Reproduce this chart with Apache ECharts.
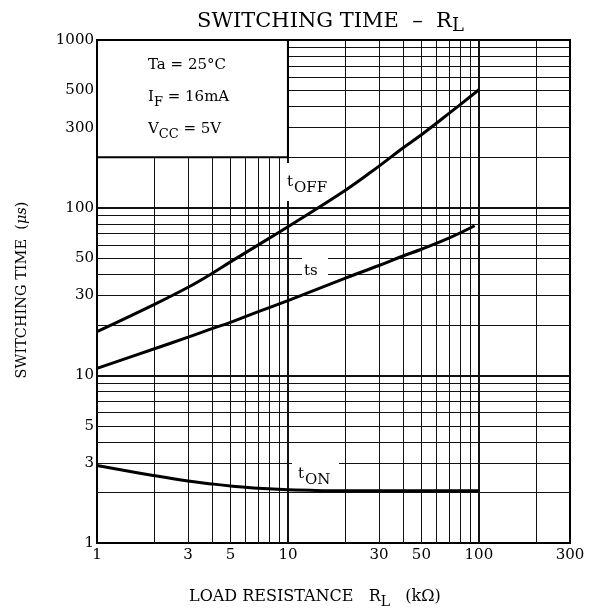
<!DOCTYPE html>
<html><head><meta charset="utf-8">
<script src="https://cdn.jsdelivr.net/npm/echarts@6/dist/echarts.min.js"></script>
<style>html,body{margin:0;padding:0;background:#fff}#c{width:595px;height:614px}</style>
</head><body><div id="c"></div>
<script>
// ---- data ----
const rlOff = [1, 2, 3, 4, 5, 7, 10, 20, 30, 40, 50, 70, 100];
const tOff  = [18.2, 26.5, 33.5, 40.5, 47.5, 60, 77, 127, 177, 227, 272, 366, 505];
const rlTs  = [1, 2, 3, 4, 5, 7, 10, 20, 30, 40, 50, 70, 95];
const ts    = [11.0, 14.4, 16.9, 19.0, 20.7, 24.0, 27.9, 38, 45.2, 51.5, 56.5, 66, 78];
const rlOn  = [1, 2, 3, 4, 5, 7, 10, 20, 30, 50, 100];
const tOn   = [2.9, 2.52, 2.34, 2.25, 2.19, 2.12, 2.08, 2.05, 2.05, 2.05, 2.05];
const xTickLabels = [1, 3, 5, 10, 30, 50, 100, 300];
const yTickLabels = [1, 3, 5, 10, 30, 50, 100, 300, 500, 1000];
const xMinorGrid = [2, 3, 4, 5, 6, 7, 8, 9, 20, 30, 40, 50, 60, 70, 80, 90, 200];
const xMajorGrid = [10, 100];
const yMinorGrid = [2, 3, 4, 5, 6, 7, 8, 9, 20, 30, 40, 50, 60, 70, 80, 90, 200, 300, 400, 500, 600, 700, 800, 900];
const yMajorGrid = [10, 100];
const condBoxX = [1, 10];
const condBoxY = [200, 1000];
const xRange = [1, 300];
const yRange = [1, 1000];

const FONT = 'DejaVu Serif';
const chart = echarts.init(document.getElementById('c'), null, {renderer: 'canvas'});
const pair = (xs, ys) => xs.map((x, i) => [x, ys[i]]);
const curve = (name, data) => ({
  name, type: 'line', data, smooth: 0.4, symbol: 'none', z: 4,
  lineStyle: {color: '#000', width: 3}, silent: true, animation: false
});
const gridLines = [].concat(
  xMinorGrid.map(v => ({xAxis: v})),
  xMajorGrid.map(v => ({xAxis: v, lineStyle: {width: 2}})),
  yMinorGrid.map(v => ({yAxis: v})),
  yMajorGrid.map(v => ({yAxis: v, lineStyle: {width: 2}}))
);
const tickLabels = [].concat(
  xTickLabels.map(v => ({xAxis: v, name: String(v), label: {distance: 5}})),
  yTickLabels.map(v => ({yAxis: v, name: String(v), label: {distance: 3}}))
);
const sub = (mainSize, subSize, lh) => ({
  a: {fontFamily: FONT, fontSize: mainSize, fontWeight: 'normal', color: '#000', lineHeight: lh, verticalAlign: 'middle'},
  s: {fontFamily: FONT, fontSize: subSize, fontWeight: 'normal', color: '#000', lineHeight: lh, verticalAlign: 'bottom'}
});

chart.setOption({
  animation: false,
  backgroundColor: '#fff',
  title: {
    text: '{a|SWITCHING TIME  –  R}{s|L}',
    left: 192, top: 3,
    textStyle: {fontWeight: 'normal', rich: sub(21, 18, 27)}
  },
  grid: {left: 97, right: 25, top: 40, bottom: 71, show: true, borderColor: '#000', borderWidth: 2},
  xAxis: {type: 'log', logBase: 10, min: xRange[0], max: xRange[1],
    axisLine: {show: false}, axisTick: {show: false}, axisLabel: {show: false}, splitLine: {show: false}},
  yAxis: {type: 'log', logBase: 10, min: yRange[0], max: yRange[1],
    axisLine: {show: false}, axisTick: {show: false}, axisLabel: {show: false}, splitLine: {show: false}},
  series: [
    {
      name: 'grid', type: 'line', data: [], silent: true,
      markLine: {
        z: 1, silent: true, animation: false, symbol: ['none', 'none'],
        label: {show: false},
        lineStyle: {color: '#111', width: 1, type: 'solid'},
        emphasis: {disabled: true},
        data: gridLines
      },
      markArea: {
        z: 3, silent: true, animation: false,
        itemStyle: {color: '#fff', borderColor: '#000', borderWidth: 2},
        label: {show: false},
        data: [[{xAxis: condBoxX[0], yAxis: condBoxY[0]}, {xAxis: condBoxX[1], yAxis: condBoxY[1]}]]
      }
    },
    {
      name: 'ticks', type: 'line', data: [], silent: true,
      markLine: {
        z: 1, silent: true, animation: false, symbol: ['none', 'none'],
        lineStyle: {color: 'rgba(0,0,0,0)', width: 0},
        label: {show: true, position: 'start', formatter: '{b}', color: '#000', fontFamily: FONT, fontSize: 15},
        emphasis: {disabled: true},
        data: tickLabels
      }
    },
    curve('tOFF', pair(rlOff, tOff)),
    curve('ts', pair(rlTs, ts)),
    curve('tON', pair(rlOn, tOn))
  ],
  graphic: [
    // condition texts
    {type: 'text', x: 148, y: 65, z: 10, silent: true,
      style: {text: 'Ta = 25°C', font: '15px "DejaVu Serif"', fill: '#000', verticalAlign: 'middle'}},
    {type: 'text', x: 148, y: 97, z: 10, silent: true,
      style: {text: '{a|I}{s|F}{a| = 16mA}', rich: sub(15, 13, 24), verticalAlign: 'middle'}},
    {type: 'text', x: 148, y: 129, z: 10, silent: true,
      style: {text: '{a|V}{s|CC}{a| = 5V}', rich: sub(15, 13, 24), verticalAlign: 'middle'}},
    // curve label backgrounds
    {type: 'rect', z: 2, silent: true, shape: {x: 284, y: 163, width: 52, height: 38}, style: {fill: '#fff'}},
    {type: 'rect', z: 2, silent: true, shape: {x: 302, y: 256, width: 26, height: 26}, style: {fill: '#fff'}},
    {type: 'rect', z: 2, silent: true, shape: {x: 292, y: 461, width: 47, height: 28}, style: {fill: '#fff'}},
    // curve labels
    {type: 'text', x: 287, y: 182, z: 5, silent: true,
      style: {text: 't', font: '15px "DejaVu Serif"', fill: '#000', verticalAlign: 'middle'}},
    {type: 'text', x: 294, y: 188, z: 5, silent: true,
      style: {text: 'OFF', font: '15px "DejaVu Serif"', fill: '#000', verticalAlign: 'middle'}},
    {type: 'text', x: 304, y: 271, z: 5, silent: true,
      style: {text: 'ts', font: '15px "DejaVu Serif"', fill: '#000', verticalAlign: 'middle'}},
    {type: 'text', x: 298, y: 474, z: 5, silent: true,
      style: {text: 't', font: '15px "DejaVu Serif"', fill: '#000', verticalAlign: 'middle'}},
    {type: 'text', x: 305, y: 480, z: 5, silent: true,
      style: {text: 'ON', font: '15px "DejaVu Serif"', fill: '#000', verticalAlign: 'middle'}},
    // axis names
    {type: 'text', x: 189, y: 597, z: 10, silent: true,
      style: {text: '{a|LOAD RESISTANCE   R}{s|L}{a|   (kΩ)}', rich: sub(16, 14, 24), verticalAlign: 'middle'}},
    {type: 'text', x: 22, y: 290, z: 10, silent: true, rotation: Math.PI / 2,
      style: {text: '{a|SWITCHING TIME  (}{i|μs}{a|)}', align: 'center', verticalAlign: 'middle',
        rich: {
          a: {fontFamily: FONT, fontSize: 14.5, color: '#000'},
          i: {fontFamily: FONT, fontSize: 14.5, fontStyle: 'italic', color: '#000'}
        }}}
  ]
});
</script>
</body></html>
